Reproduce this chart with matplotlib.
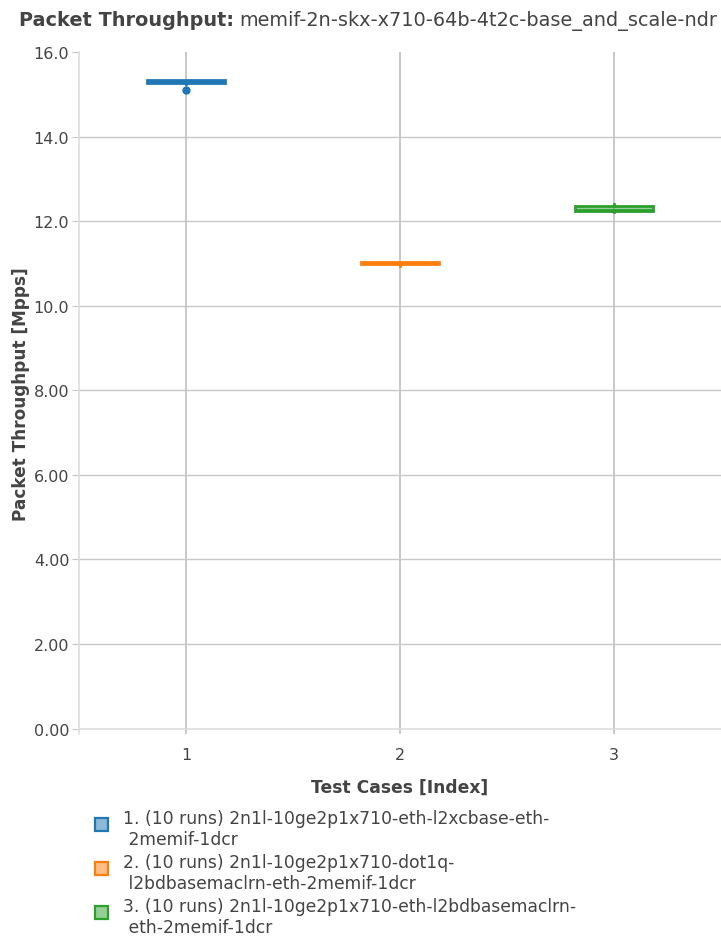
import numpy as np
import matplotlib.pyplot as plt
from matplotlib.patches import Rectangle

# Throughput samples per test case [Mpps]
test_idx = [1, 2, 3]
tc1 = [15.11, 15.25, 15.27, 15.28, 15.29, 15.31, 15.32, 15.33, 15.34, 15.34]
tc2 = [10.95, 10.97, 10.98, 10.99, 11.00, 11.00, 11.02, 11.03, 11.04, 11.04]
tc3 = [12.21, 12.23, 12.24, 12.25, 12.26, 12.28, 12.33, 12.38, 12.39, 12.40]
labels = [
    "1. (10 runs) 2n1l-10ge2p1x710-eth-l2xcbase-eth-\n 2memif-1dcr",
    "2. (10 runs) 2n1l-10ge2p1x710-dot1q-\n l2bdbasemaclrn-eth-2memif-1dcr",
    "3. (10 runs) 2n1l-10ge2p1x710-eth-l2bdbasemaclrn-\n eth-2memif-1dcr",
]
colors = ["#1f77b4", "#ff7f0e", "#2ca02c"]
yticks = [0, 2, 4, 6, 8, 10, 12, 14, 16]
ytick_labels = ["0.00", "2.00", "4.00", "6.00", "8.00", "10.0", "12.0", "14.0", "16.0"]

txt = "#444444"
W, H = 721, 945
fig = plt.figure(figsize=(W / 100, H / 100), dpi=100)
ax = fig.add_axes([0.1096, 0.2222, 0.8904, 0.7217])

# grid first so boxes sit on top
for x in test_idx:
    ax.axvline(x, color="#c4c4c4", lw=1.3, zorder=0)
for y in yticks[1:-1]:
    ax.axhline(y, color="#c8c8c8", lw=1.0, zorder=0)
ax.axhline(0, color="#dddddd", lw=1.2, zorder=0)

for i, data in enumerate([tc1, tc2, tc3]):
    c = colors[i]
    ax.boxplot(
        [data], positions=[test_idx[i]], widths=0.36, whis=1.5,
        patch_artist=True, showcaps=False,
        boxprops=dict(facecolor=c + "80", edgecolor=c, linewidth=2),
        medianprops=dict(color=c, linewidth=2),
        whiskerprops=dict(color=c, linewidth=2),
        flierprops=dict(marker="o", markersize=5, markerfacecolor=c,
                        markeredgecolor=c),
    )

ax.set_xlim(0.5, 3.5)
ax.set_ylim(-0.13, 16)
ax.set_xticks(test_idx)
ax.set_xticklabels([str(t) for t in test_idx])
ax.set_yticks(yticks)
ax.set_yticklabels(ytick_labels)
ax.tick_params(axis="y", length=5, color="#c4c4c4", labelsize=11.5,
               labelcolor=txt, pad=2)
ax.tick_params(axis="x", length=0, labelsize=11.5, labelcolor=txt, pad=9)
for s in ["top", "right", "bottom"]:
    ax.spines[s].set_visible(False)
ax.spines["left"].set_color("#dddddd")
ax.spines["left"].set_linewidth(1.2)

ax.set_xlabel("Test Cases [Index]", fontsize=12.3, fontweight="bold",
              color=txt, labelpad=12)
ax.set_ylabel("Packet Throughput [Mpps]", fontsize=12.2, fontweight="bold",
              color=txt, labelpad=3)

# title: bold prefix + normal text
t1 = fig.text(0.027, 0.978, "Packet Throughput:", fontsize=13.9,
              fontweight="bold", color=txt, va="center")
fig.canvas.draw()
bb = t1.get_window_extent()
fig.text(bb.x1 / W + 0.007, 0.978,
         "memif-2n-skx-x710-64b-4t2c-base_and_scale-ndr",
         fontsize=13.9, color=txt, va="center")

# legend drawn by hand: square marker next to the first line of each entry
for i, (lab, c) in enumerate(zip(labels, colors)):
    y_line1 = 820 + 44 * i  # pixel row from top, centre of first text line
    fig.text(123 / W, 1 - (y_line1 - 10) / H, lab, fontsize=12.3, color=txt,
             va="top", ha="left", linespacing=1.2)
    fig.add_artist(Rectangle((95 / W, 1 - (y_line1 + 12) / H), 13 / W, 13 / H,
                             transform=fig.transFigure, facecolor=c + "80",
                             edgecolor=c, linewidth=1.6))

fig.savefig("out.png", dpi=100)
